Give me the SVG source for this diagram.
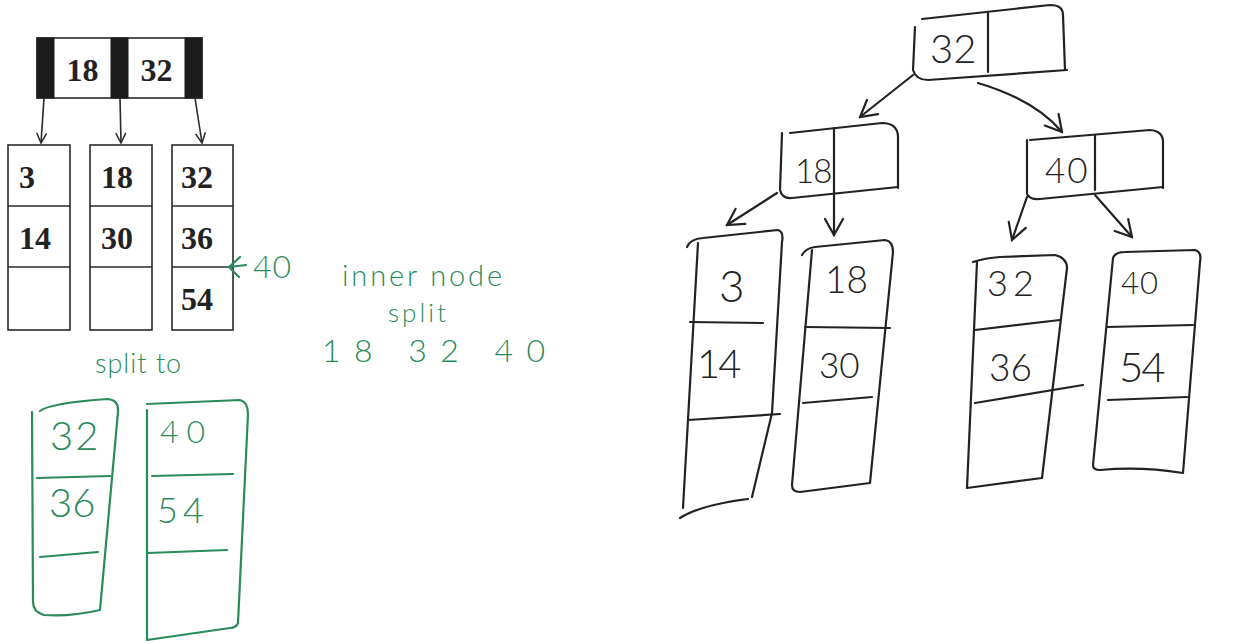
<svg xmlns="http://www.w3.org/2000/svg" width="1251" height="644" viewBox="0 0 1251 644">
<style>
.pr{fill:none;stroke:#2a2a2a;stroke-width:1.6}
.bar{fill:#1c1c1c;stroke:#1c1c1c;stroke-width:1}
.pt{font-family:"Liberation Serif",serif;font-weight:bold;font-size:32px;fill:#222}
.hd{fill:none;stroke:#222;stroke-width:2.2;stroke-linecap:round;stroke-linejoin:round}
.ht{font-family:Lato,"Open Sans",sans-serif;font-weight:300;fill:#222}
.gd{fill:none;stroke:#2b8a5a;stroke-width:2.2;stroke-linecap:round;stroke-linejoin:round}
.gt{font-family:Lato,"Open Sans",sans-serif;font-weight:300;fill:#2b8a5a}
</style>
<defs>
<marker id="pa" viewBox="0 0 12 12" refX="11" refY="6" markerWidth="12" markerHeight="12" markerUnits="userSpaceOnUse" orient="auto">
<path d="M1,1 L11,6 L1,11" fill="none" stroke="#2a2a2a" stroke-width="1.5"/>
</marker>
<marker id="ha" viewBox="0 0 22 22" refX="20" refY="11" markerWidth="22" markerHeight="22" markerUnits="userSpaceOnUse" orient="auto">
<path d="M4,2 L20,11 L4,20" fill="none" stroke="#222" stroke-width="2.2" stroke-linecap="round"/>
</marker>
</defs>
<rect width="1251" height="644" fill="#fff"/>

<g id="printed-root">
<rect class="pr" x="37" y="38" width="165" height="60"/>
<rect class="bar" x="37" y="38" width="17" height="60"/>
<rect class="bar" x="111" y="38" width="17" height="60"/>
<rect class="bar" x="185" y="38" width="17" height="60"/>
<text class="pt" x="82.5" y="81" text-anchor="middle">18</text>
<text class="pt" x="156.5" y="81" text-anchor="middle">32</text>
</g>
<g id="printed-leaf1">
<rect class="pr" x="8" y="145" width="62" height="185"/>
<path class="pr" d="M8,206 H70 M8,267 H70"/>
<text class="pt" x="19" y="188">3</text>
<text class="pt" x="19" y="249">14</text>
</g>
<g id="printed-leaf2">
<rect class="pr" x="90" y="145" width="62" height="185"/>
<path class="pr" d="M90,206 H152 M90,267 H152"/>
<text class="pt" x="101" y="188">18</text>
<text class="pt" x="101" y="249">30</text>
</g>
<g id="printed-leaf3">
<rect class="pr" x="172" y="145" width="61" height="185"/>
<path class="pr" d="M172,206 H233 M172,267 H233"/>
<text class="pt" x="181" y="188">32</text>
<text class="pt" x="181" y="249">36</text>
<text class="pt" x="181" y="310">54</text>
</g>

<g id="insert-note">
<text class="gt" x="253" y="278" font-size="32" letter-spacing="1">40</text>
</g>
<g id="inner-split-note">
<text class="gt" x="342" y="286" font-size="29" textLength="160">inner node</text>
<text class="gt" x="388" y="322" font-size="26" letter-spacing="3">split</text>
<text class="gt" x="322" y="362" font-size="32" textLength="223" lengthAdjust="spacing">18 32 40</text>
</g>
<g id="split-label">
<text class="gt" x="95" y="373" font-size="27" letter-spacing="1">split to</text>
</g>
<g id="green-leaf-left">
<path class="gd" d="M40,411 Q50,403 108,399 Q119,400 118,412 L100,610 Q70,617 44,615 Q33,612 33,602 L32,412"/>
<path class="gd" d="M37,478 L110,476 M40,557 L98,552"/>
<text class="gt" x="50" y="450" font-size="40" letter-spacing="2">32</text>
<text class="gt" x="49" y="517" font-size="40">36</text>
</g>
<g id="green-leaf-right">
<path class="gd" d="M147,404 L240,400 Q248,402 248,414 L238,623 Q236,628 230,628 L147,640 L147,410"/>
<path class="gd" d="M152,476 L233,474 M148,553 L227,550"/>
<text class="gt" x="160" y="443" font-size="32" letter-spacing="8">40</text>
<text class="gt" x="157" y="523" font-size="36" letter-spacing="5">54</text>
</g>

<g id="hand-root">
<path class="hd" d="M922,19 L1050,5 Q1063,5 1063,15 L1065,70"/>
<path class="hd" d="M915,27 L913,70 Q916,80 928,80 L1067,70"/>
<path class="hd" d="M988,13 L988,72"/>
<text class="ht" x="930" y="63" font-size="40">32</text>
</g>
<g id="hand-inner-18">
<path class="hd" d="M790,133 L882,123 Q897,123 898,136 L898,188"/>
<path class="hd" d="M782,133 L780,190 Q782,199 792,198 L898,187"/>
<path class="hd" d="M834,128 L834,190"/>
<text class="ht" x="795" y="183" font-size="33" letter-spacing="-1">18</text>
</g>
<g id="hand-inner-40">
<path class="hd" d="M1030,140 L1150,130 Q1163,131 1163,142 L1163,188"/>
<path class="hd" d="M1027,140 L1027,194 Q1030,200 1040,199 L1163,187"/>
<path class="hd" d="M1095,135 L1095,190"/>
<text class="ht" x="1045" y="183" font-size="35" letter-spacing="2">40</text>
</g>
<g id="hand-leaf1">
<path class="hd" d="M687,247 Q690,239 703,238 L778,230 Q784,232 782,242 L772,413 L752,497"/>
<path class="hd" d="M698,243 L683,508 M680,518 Q700,505 748,499"/>
<path class="hd" d="M690,322 L763,323 M688,420 L780,414"/>
<text class="ht" x="719" y="302" font-size="44">3</text>
<text class="ht" x="697" y="378" font-size="40" letter-spacing="-2">14</text>
</g>
<g id="hand-leaf2">
<path class="hd" d="M802,255 Q806,248 815,247 L885,240 Q893,241 893,252 L870,483 L800,492 Q792,492 792,485 L812,250"/>
<path class="hd" d="M805,327 L890,328 M803,403 L872,397"/>
<text class="ht" x="825" y="293" font-size="37">18</text>
<text class="ht" x="819" y="378" font-size="35">30</text>
</g>
<g id="hand-leaf3">
<path class="hd" d="M973,262 Q985,258 1000,257 L1055,255 Q1067,258 1067,268 L1042,478 L967,488 L977,262"/>
<path class="hd" d="M975,330 L1060,320 M975,403 L1083,385"/>
<text class="ht" x="987" y="296" font-size="36" letter-spacing="5">32</text>
<text class="ht" x="989" y="381" font-size="37">36</text>
</g>
<g id="hand-leaf4">
<path class="hd" d="M1113,258 Q1115,252 1125,252 L1195,250 Q1202,252 1200,262 L1183,473 Q1140,466 1100,470 Q1093,470 1093,465 L1113,258"/>
<path class="hd" d="M1107,327 L1193,325 M1108,400 L1187,397"/>
<text class="ht" x="1121" y="294" font-size="31" letter-spacing="1">40</text>
<text class="ht" x="1119" y="382" font-size="42" letter-spacing="-2">54</text>
</g>

<g id="connectors">
<path class="pr" d="M44,98 L41,143" marker-end="url(#pa)"/>
<path class="pr" d="M120,98 L121,143" marker-end="url(#pa)"/>
<path class="pr" d="M195,98 L202,143" marker-end="url(#pa)"/>
<path class="gd" d="M246,265 L229,267 M240,257 L229,267 L239,277"/>
<path class="hd" d="M913,75 L860,117" marker-end="url(#ha)"/>
<path class="hd" d="M978,83 Q1035,100 1062,132" marker-end="url(#ha)"/>
<path class="hd" d="M777,193 L727,225" marker-end="url(#ha)"/>
<path class="hd" d="M834,190 L834,235" marker-end="url(#ha)"/>
<path class="hd" d="M1027,197 L1012,240" marker-end="url(#ha)"/>
<path class="hd" d="M1095,195 L1132,237" marker-end="url(#ha)"/>
</g>
</svg>
